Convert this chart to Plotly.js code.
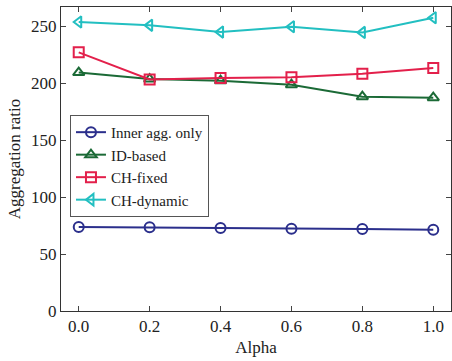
<!DOCTYPE html>
<html>
<head>
<meta charset="utf-8">
<script src="https://cdn.plot.ly/plotly-3.0.1.min.js"></script>
<style>html,body{margin:0;padding:0;background:#fff;}#chart{width:452px;height:361px;}</style>
</head>
<body>
<div id="chart"></div>
<script>
const alpha = [0.0, 0.2, 0.4, 0.6, 0.8, 1.0];
const innerAgg = [73.7, 73.4, 72.8, 72.2, 71.9, 71.3];
const idBased = [209.2, 203.5, 202.0, 198.5, 188.0, 187.1];
const chFixed = [226.9, 203.2, 204.4, 205.0, 208.2, 213.2];
const chDynamic = [253.5, 250.6, 244.7, 249.4, 244.4, 257.3];
const names = ["Inner agg. only", "ID-based", "CH-fixed", "CH-dynamic"];
const colors = ["#2b2f8c", "#1b6a36", "#e3204b", "#22bfc1"];
const symbols = ["circle-open", "triangle-up-open", "square-open", "triangle-left-open"];
const series = [innerAgg, idBased, chFixed, chDynamic];

const traces = series.map((ys, i) => ({
  x: alpha, y: ys, name: names[i], type: "scatter", mode: "lines+markers",
  line: {color: colors[i], width: 2},
  marker: {symbol: symbols[i], size: 10, color: colors[i], line: {width: 2, color: colors[i]}}
}));

const font = {family: "Liberation Serif", size: 17, color: "#222"};
const legendFont = {family: "Liberation Serif", size: 15, color: "#222"};
const layout = {
  width: 452, height: 361,
  margin: {l: 61, r: 1, t: 7, b: 50},
  paper_bgcolor: "#fff", plot_bgcolor: "#fff",
  font: font,
  showlegend: true,
  legend: {x: 0.023, y: 0.645, xanchor: "left", yanchor: "top", bgcolor: "#fff",
    bordercolor: "#555", borderwidth: 1, font: legendFont, tracegroupgap: 0},
  xaxis: {range: [-0.05, 1.05], tickvals: alpha, tickformat: ".1f", ticks: "inside", ticklen: 5,
    showline: true, mirror: "ticks", linecolor: "#333", linewidth: 1, showgrid: false, zeroline: false,
    title: {text: "Alpha", font: font, standoff: 5}},
  yaxis: {range: [0, 266.7], tickvals: [0, 50, 100, 150, 200, 250], ticks: "inside", ticklen: 5,
    showline: true, mirror: "ticks", linecolor: "#333", linewidth: 1, showgrid: false, zeroline: false,
    title: {text: "Aggregation ratio", font: font, standoff: 6}}
};
Plotly.newPlot("chart", traces, layout, {displayModeBar: false, staticPlot: true});
</script>
</body>
</html>
